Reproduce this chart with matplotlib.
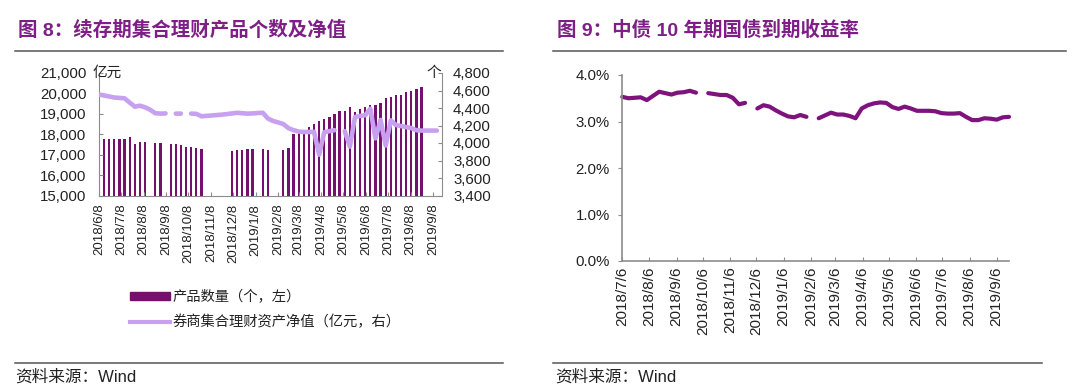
import matplotlib
matplotlib.use('Agg')
import matplotlib.pyplot as plt
import matplotlib.dates as mdates
from matplotlib.lines import Line2D
import numpy as np
import pandas as pd

plt.rcParams['font.family'] = ['Liberation Sans', 'Noto Sans CJK SC']
plt.rcParams['axes.unicode_minus'] = False

nan = np.nan
W, H = 1080, 390

# ---- 图8 data: weekly, first week 2018/6/8 ----
fund_start = '2018-06-08'
fund_count = [nan, 4046, 4049, 4049, 4049, 4042, 4065, 3992, 4015, 4011,
              nan, 4003, 4003, nan, 3985, 3989, 3977, 3951, 3954, 3939,
              3935, nan, nan, nan, nan, nan, 3912, 3916, 3920, 3935,
              3935, nan, 3931, 3924, nan, nan, 3920, 3946, 4103, 4111,
              4111, 4180, 4220, 4255, 4280, 4300, 4333, 4370, 4370, 4410,
              4350, 4389, 4417, 4432, 4440, 4453, 4518, 4529, 4545, 4552,
              4583, 4598, 4617, 4640, nan, nan, nan]
net_value = [19940, 19900, 19850, 19800, 19780, 19760, 19550, 19350, 19400, 19320,
             19200, 19030, 19010, 19020, nan, 19010, 19010, nan, 19010, 19000,
             18880, 18900, 18920, 18940, 18960, 18990, 19020, 19050, 19030, 19010,
             19020, 19040, 19050, 18770, 18650, 18580, 18500, 18300, 18200, 18130,
             18110, 18110, 18120, 17000, 18100, 18150, 18200, nan, 18150, 17400,
             18840, 18900, 18930, 19250, 17800, 18700, 17450, 18680, 18450, 18400,
             18350, 18300, 18200, 18180, 18180, 18180, 18180]
fund_xticks = ['2018/6/8', '2018/7/8', '2018/8/8', '2018/9/8', '2018/10/8', '2018/11/8',
               '2018/12/8', '2019/1/8', '2019/2/8', '2019/3/8', '2019/4/8', '2019/5/8',
               '2019/6/8', '2019/7/8', '2019/8/8', '2019/9/8']
value_ticks = [15000, 16000, 17000, 18000, 19000, 20000, 21000]
count_ticks = [3400, 3600, 3800, 4000, 4200, 4400, 4600, 4800]

# ---- 图9 data: weekly, first week 2018/7/6 ----
yield_start = '2018-07-06'
yield_10y = [3.53, 3.50, 3.51, 3.52, 3.46, 3.55, 3.64, 3.61, 3.58, 3.62,
             3.63, 3.66, 3.62, nan, 3.61, 3.59, 3.57, 3.57, 3.51, 3.37,
             3.40, nan, 3.28, 3.35, 3.32, 3.24, 3.17, 3.11, 3.09, 3.14,
             3.10, nan, 3.07, 3.13, 3.19, 3.15, 3.15, 3.12, 3.07, 3.28,
             3.35, 3.39, 3.41, 3.40, 3.31, 3.27, 3.32, 3.28, 3.23, 3.23,
             3.23, 3.22, 3.18, 3.17, 3.17, 3.18, 3.10, 3.03, 3.03, 3.07,
             3.06, 3.04, 3.09, 3.10]
yield_xticks = ['2018/7/6', '2018/8/6', '2018/9/6', '2018/10/6', '2018/11/6', '2018/12/6',
                '2019/1/6', '2019/2/6', '2019/3/6', '2019/4/6', '2019/5/6', '2019/6/6',
                '2019/7/6', '2019/8/6', '2019/9/6']
yield_ticks = [0, 1, 2, 3, 4]

BAR_C = '#76106f'
LINE_C = '#c7a0f0'
YLD_C = '#7e137e'
TITLE_C = '#7d1f85'
SPINE_C = '#8c8c8c'
TXT_C = '#222222'


def rect(x0, y0, x1, y1):
    return [x0 / W, 1 - y1 / H, (x1 - x0) / W, (y1 - y0) / H]


def fx(x):
    return x / W


def fy(y):
    return 1 - y / H


def to_num(labels):
    return mdates.date2num(pd.to_datetime(labels, format='%Y/%m/%d'))


fig = plt.figure(figsize=(W / 100, H / 100), dpi=100)

# ================= 图8 =================
fund_x = mdates.date2num(pd.date_range(fund_start, periods=len(net_value), freq='7D'))

ax = fig.add_axes(rect(99, 73, 442, 195.5))
ax2 = ax.twinx()  # twinx resets ax ticks to the left, so set sides afterwards

ax.bar(fund_x, fund_count, width=3.1, color=BAR_C, align='center')
ax.set_ylim(3400, 4800)
ax.yaxis.tick_right()
ax.set_yticks(count_ticks)
ax.set_yticklabels([f'{v:,}' for v in count_ticks])
ax.set_xlim(to_num(['2018/6/8'])[0], to_num(['2019/9/20'])[0])
ax.set_xticks(to_num(fund_xticks))
ax.set_xticklabels(fund_xticks, rotation=90)
ax.tick_params(axis='x', direction='in', length=3, pad=6, labelsize=9.5,
               color=SPINE_C, labelcolor=TXT_C)
ax.tick_params(axis='y', direction='in', length=3, pad=8, labelsize=10.8,
               color=SPINE_C, labelcolor=TXT_C)
for s in ['left', 'right', 'bottom']:
    ax.spines[s].set_color(SPINE_C)
ax.spines['top'].set_visible(False)

ax2.plot(fund_x, net_value, color=LINE_C, lw=3.3, solid_capstyle='round',
         solid_joinstyle='round')
ax2.set_ylim(15000, 21000)
ax2.yaxis.tick_left()
ax2.set_yticks(value_ticks)
ax2.set_yticklabels([f'{v:,}' for v in value_ticks])
ax2.tick_params(axis='y', direction='in', length=3, pad=9, labelsize=10.8,
                color=SPINE_C, labelcolor=TXT_C)
for s in ax2.spines.values():
    s.set_visible(False)

fig.text(fx(93), fy(73), '亿元', fontsize=10.5, color=TXT_C, va='center', ha='left')
fig.text(fx(441), fy(73), '个', fontsize=10.5, color=TXT_C, va='center', ha='right')

handles = [plt.Rectangle((0, 0), 1, 1, color=BAR_C),
           Line2D([0], [0], color=LINE_C, lw=3)]
fig.legend(handles, ['产品数量（个，左）', '券商集合理财资产净值（亿元，右）'],
           loc='upper left', bbox_to_anchor=(fx(130), fy(290)), frameon=False,
           fontsize=10.3, handlelength=2.8, handleheight=0.45, handletextpad=0.2,
           labelspacing=0.75, borderpad=0, borderaxespad=0, labelcolor=TXT_C)

# ================= 图9 =================
yld_x = mdates.date2num(pd.date_range(yield_start, periods=len(yield_10y), freq='7D'))

bx = fig.add_axes(rect(622.3, 75, 1009, 261))
bx.plot(yld_x, yield_10y, color=YLD_C, lw=3, solid_capstyle='round',
        solid_joinstyle='round', clip_on=False)
bx.set_ylim(0, 4)
bx.set_yticks(yield_ticks)
bx.set_yticklabels([f'{v:.1f}%' for v in yield_ticks])
bx.set_xlim(to_num(['2018/7/6'])[0], to_num(['2019/9/20'])[0])
bx.set_xticks(to_num(yield_xticks))
bx.set_xticklabels(yield_xticks, rotation=90)
bx.tick_params(axis='x', direction='in', length=3, pad=4, labelsize=11,
               color=SPINE_C, labelcolor=TXT_C)
bx.tick_params(axis='y', direction='out', length=3, pad=6, labelsize=10.8,
               color=SPINE_C, labelcolor=TXT_C)
for s in ['left', 'bottom']:
    bx.spines[s].set_color(SPINE_C)
    bx.spines[s].set_linewidth(1.2)
bx.spines['top'].set_visible(False)
bx.spines['right'].set_visible(False)

# ================= titles, rules, sources =================
fig.text(fx(18), fy(30), '图 8：续存期集合理财产品个数及净值', fontsize=14,
         fontweight='bold', color=TITLE_C, va='center', ha='left')
fig.text(fx(557), fy(30), '图 9：中债 10 年期国债到期收益率', fontsize=14,
         fontweight='bold', color=TITLE_C, va='center', ha='left')

for x0, x1, y in [(15, 503, 51), (553, 1066, 51), (15, 503, 363), (553, 1042, 363)]:
    fig.add_artist(Line2D([fx(x0), fx(x1)], [fy(y), fy(y)], color='#555555', lw=1.1))

fig.text(fx(15), fy(377), '资料来源：Wind', fontsize=12, color=TXT_C, va='center', ha='left')
fig.text(fx(555), fy(377), '资料来源：Wind', fontsize=12, color=TXT_C, va='center', ha='left')

fig.savefig('out.png', dpi=100)
